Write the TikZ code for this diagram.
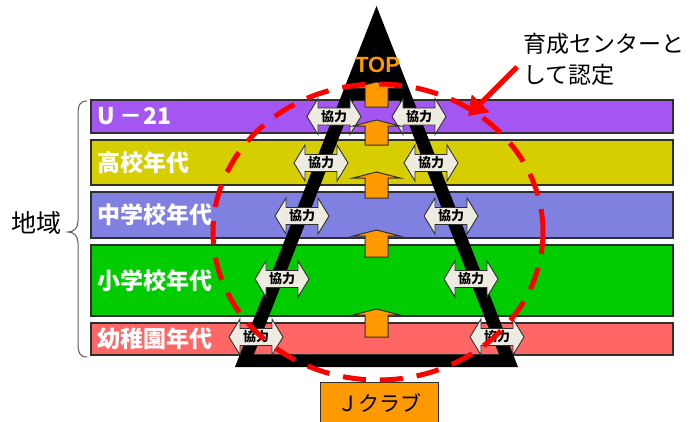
\documentclass[tikz,border=0pt]{standalone}
\usepackage{fontspec}
\setmainfont{Liberation Sans}
\newfontfamily\jp{Noto Sans CJK JP}
\usetikzlibrary{arrows.meta}
\definecolor{cU}{HTML}{A456F2}
\definecolor{cK}{HTML}{D6CE00}
\definecolor{cC}{HTML}{8080E0}
\definecolor{cS}{HTML}{00CC00}
\definecolor{cY}{HTML}{FF6666}
\definecolor{cOr}{HTML}{FF9900}
\definecolor{cBe}{HTML}{EEECE1}
\definecolor{cLine}{HTML}{303030}
\begin{document}
\begin{tikzpicture}[x=1pt,y=-1pt,
  band/.style={draw=cLine,line width=1.2pt},
  bandlabel/.style={anchor=west,inner sep=0pt,text=white,font=\jp\bfseries\fontsize{23}{23}\selectfont},
  kyo/.style={draw=cLine,fill=cBe,line width=0.9pt,line join=miter},
  kyotext/.style={inner sep=0pt,font=\jp\bfseries\fontsize{13}{13}\selectfont},
  uparr/.style={draw=cLine,fill=cOr,line width=1pt},
  reddash/.style={draw=red,line width=5pt,dash pattern=on 23pt off 14pt},
  redarr/.style={draw=red,line width=5pt,-{Triangle[length=18pt,width=24pt]}},
  plain/.style={inner sep=0pt,font=\jp\fontsize{23}{23}\selectfont}]
\useasboundingbox (0,0) rectangle (694,421);
\clip (0,0) rectangle (694,421);
% bands
\draw[band,fill=cU] (91,100) rectangle (673,133);
\draw[band,fill=cK] (91,140) rectangle (673,185);
\draw[band,fill=cC] (91,192) rectangle (673,238);
\draw[band,fill=cS] (91,245) rectangle (673,316);
\draw[band,fill=cY] (91,323) rectangle (673,355);
\node[bandlabel] (lu) at (97,116.5) {U －21};
\node[bandlabel] (lk) at (97,162.5) {高校年代};
\node[bandlabel] (lc) at (97,215) {中学校年代};
\node[bandlabel] (ls) at (97,280.5) {小学校年代};
\node[bandlabel] (ly) at (97,339) {幼稚園年代};
% triangle
\fill[black,even odd rule] (376.5,6) -- (518,367) -- (235,367) -- cycle
  (353.7,100) -- (399.3,100) -- (499.3,355) -- (253.7,355) -- cycle;
% cooperation arrows
\foreach \n/\cx/\cy in {a/334/116.5,b/419/116.5,c/321/163,d/431/163,e/302/216,f/451/216,g/282/279,h/471/279,i/256/337,j/497/337}{
  \draw[kyo,shift={(\cx,\cy)}] (-27,0) -- (-16,-18) -- (-16,-8.5) -- (16,-8.5) -- (16,-18) -- (27,0)
    -- (16,18) -- (16,8.5) -- (-16,8.5) -- (-16,18) -- cycle;
  \node[kyotext] (k\n) at (\cx,\cy) {協力};
}
% orange up arrows
\foreach \t/\l in {82/25,120/25,172/26,230/27,309/28}{
  \draw[uparr,shift={(376.5,\t)}] (0,0) -- (23.5,6) -- (11.5,6) -- (11.5,\l) -- (-11.5,\l) -- (-11.5,6) -- (-23.5,6) -- cycle;
}
\node[inner sep=0pt,text=cOr,font=\bfseries\fontsize{22}{22}\selectfont] (top) at (377.5,65) {TOP};
% J club
\node[draw=cLine,fill=cOr,line width=1pt,minimum width=118pt,minimum height=42pt,inner sep=0pt,
  font=\jp\fontsize{21}{21}\selectfont] (jc) at (379,403) {Ｊクラブ};
% red dashed ellipse
\draw[reddash] (378,232) ellipse [x radius=165pt, y radius=148pt];
% annotation
\node[plain,anchor=west] (c1) at (523,44) {育成センターと};
\node[plain,anchor=west] (c2) at (523,75) {して認定};
\coordinate (rs) at (517,67);
\coordinate (rt) at (468,116);
\draw[redarr] (rs) -- (rt);
% brace and region
\draw[cLine!80,line width=1pt] (87,101) .. controls (80,101) and (78,105) .. (78,115) -- (78,221)
  .. controls (78,228) and (74,232) .. (68,232)
  .. controls (74,232) and (78,236) .. (78,243) -- (78,344)
  .. controls (78,353) and (80,357) .. (87,357);
\node[inner sep=0pt,font=\jp\fontsize{25}{25}\selectfont] (chiiki) at (37,223) {地域};
\end{tikzpicture}
\end{document}
